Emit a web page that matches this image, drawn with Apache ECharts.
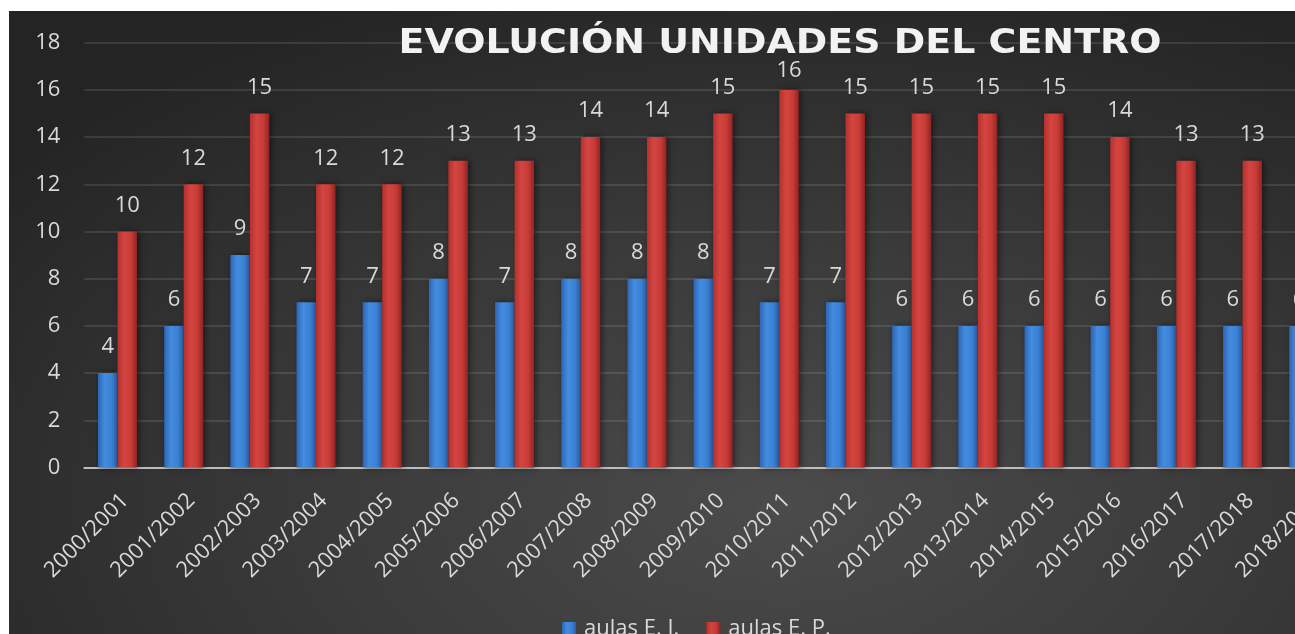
<!DOCTYPE html>
<html>
<head>
<meta charset="utf-8">
<script src="https://cdn.jsdelivr.net/npm/echarts@6/dist/echarts.min.js"></script>
<style>
  html, body { margin: 0; padding: 0; background: #ffffff; overflow: hidden; width: 1295px; height: 634px; }
  #chart {
    position: absolute; left: 9px; top: 11px; width: 1400px; height: 660px;
    background: radial-gradient(ellipse 70% 85% at 55% 75%, #4b4b4b 0%, #3b3b3b 45%, #242424 100%);
  }
</style>
</head>
<body>
<div id="chart"></div>
<script>
const titleText = 'EVOLUCIÓN UNIDADES DEL CENTRO';
const categories = ['2000/2001','2001/2002','2002/2003','2003/2004','2004/2005','2005/2006','2006/2007','2007/2008','2008/2009','2009/2010','2010/2011','2011/2012','2012/2013','2013/2014','2014/2015','2015/2016','2016/2017','2017/2018','2018/2019'];
const seriesNames = ['aulas E. I.', 'aulas E. P.'];
const aulasEI = [4, 6, 9, 7, 7, 8, 7, 8, 8, 8, 7, 7, 6, 6, 6, 6, 6, 6, 6];
const aulasEP = [10, 12, 15, 12, 12, 13, 13, 14, 14, 15, 16, 15, 15, 15, 15, 14, 13, 13, 13];
const yTicks = { min: 0, max: 18, interval: 2 };

const chart = echarts.init(document.getElementById('chart'), null, { renderer: 'canvas' });
const labelColor = '#d9d9d9';
const font = '"Open Sans", sans-serif';

function grad(stops) {
  return new echarts.graphic.LinearGradient(0, 0, 1, 0, stops.map(s => ({ offset: s[0], color: s[1] })));
}
const blueFill = grad([[0, '#2c66b4'], [0.35, '#448cdf'], [0.7, '#3a81d4'], [1, '#2a5ea6']]);
const redFill = grad([[0, '#b3302e'], [0.35, '#d44541'], [0.7, '#c73b37'], [1, '#8f2424']]);

// the tallest label sits closer to its bar (it would otherwise touch the title)
const maxEP = Math.max.apply(null, aulasEP);
const epData = aulasEP.map(v => v === maxEP ? { value: v, label: { distance: 8 } } : v);

const option = {
  animation: false,
  textStyle: { fontFamily: font },
  graphic: [{
    type: 'text', x: 771, y: 33.5, z: 100, scaleX: 1.1,
    style: {
      text: titleText, fill: '#f2f2f2', align: 'center', verticalAlign: 'middle',
      font: 'bold 34.5px "DejaVu Sans", sans-serif',
      shadowColor: 'rgba(0,0,0,0.85)', shadowBlur: 5, shadowOffsetX: 2, shadowOffsetY: 2
    }
  }],
  legend: {
    data: seriesNames, left: 548, top: 602, itemWidth: 14, itemHeight: 14, itemGap: 27, icon: 'rect',
    textStyle: { color: labelColor, fontSize: 22, fontFamily: font, padding: [0, 0, 0, 3] }
  },
  grid: { left: 75.4, top: 31.7, width: 1257.4, height: 424.8, containLabel: false },
  xAxis: {
    type: 'category', data: categories,
    axisLine: { show: true, lineStyle: { color: '#bdbdbd', width: 2 } },
    axisTick: { show: false },
    axisLabel: { rotate: 45, margin: 22, verticalAlign: 'top', color: labelColor, fontSize: 22, fontFamily: font, interval: 0 }
  },
  yAxis: {
    type: 'value', min: yTicks.min, max: yTicks.max, interval: yTicks.interval,
    axisLine: { show: false }, axisTick: { show: false },
    splitLine: { lineStyle: { color: 'rgba(255,255,255,0.14)', width: 1.5 } },
    axisLabel: { margin: 24, color: labelColor, fontSize: 22, fontFamily: font }
  },
  series: [
    {
      name: seriesNames[0], type: 'bar', data: aulasEI, barWidth: 19.5, barGap: '0%',
      itemStyle: { color: blueFill, shadowColor: 'rgba(0,0,0,0.5)', shadowBlur: 6, shadowOffsetX: 2 },
      label: { show: true, position: 'top', distance: 15, color: labelColor, fontSize: 22, fontFamily: font }
    },
    {
      name: seriesNames[1], type: 'bar', data: epData, barWidth: 19.5, barGap: '0%',
      itemStyle: { color: redFill, shadowColor: 'rgba(0,0,0,0.5)', shadowBlur: 6, shadowOffsetX: 2 },
      label: { show: true, position: 'top', distance: 15, color: labelColor, fontSize: 22, fontFamily: font }
    }
  ]
};
chart.setOption(option);
</script>
</body>
</html>
